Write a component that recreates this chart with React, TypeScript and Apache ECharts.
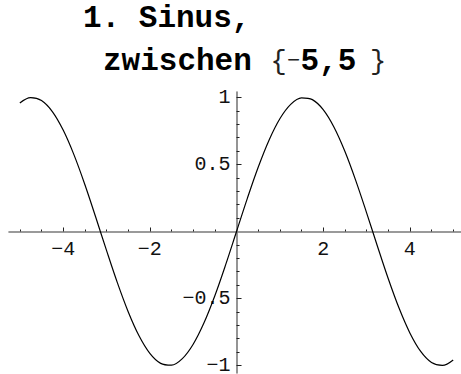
import React, { useEffect, useRef } from "react";
import * as echarts from "echarts";

// Sampled points of the sine curve on [-5, 5]
const xValues = [
  -5, -4.75, -4.5, -4.25, -4, -3.75, -3.5, -3.25, -3, -2.75, -2.5, -2.25, -2, -1.75, -1.5, -1.25, -1, -0.75, -0.5, -0.25,
  0, 0.25, 0.5, 0.75, 1, 1.25, 1.5, 1.75, 2, 2.25, 2.5, 2.75, 3, 3.25, 3.5, 3.75, 4, 4.25, 4.5, 4.75, 5,
];
const yValues = [
  0.9589, 0.9993, 0.9775, 0.895, 0.7568, 0.5716, 0.3508, 0.1082, -0.1411, -0.3817, -0.5985, -0.7781, -0.9093, -0.984,
  -0.9975, -0.949, -0.8415, -0.6816, -0.4794, -0.2474, 0, 0.2474, 0.4794, 0.6816, 0.8415, 0.949, 0.9975, 0.984, 0.9093,
  0.7781, 0.5985, 0.3817, 0.1411, -0.1082, -0.3508, -0.5716, -0.7568, -0.895, -0.9775, -0.9993, -0.9589,
];

// Tick positions and labels
const xMajorTicks = [-4, -2, 2, 4];
const xMinorTicks = [-5, -4.5, -3.5, -3, -2.5, -1.5, -1, -0.5, 0.5, 1, 1.5, 2.5, 3, 3.5, 4.5, 5];
const yMajorTicks = [-1, -0.5, 0.5, 1];
const yMinorTicks = [
  -0.9, -0.8, -0.7, -0.6, -0.4, -0.3, -0.2, -0.1, 0.1, 0.2, 0.3, 0.4, 0.6, 0.7, 0.8, 0.9,
];

const titleLine1 = "1. Sinus,";
const titleWord = "zwischen ";
const titleRange = "5,5";

// Plot range shown by the axes
const X_MIN = -5.25;
const X_MAX = 5.18;
const Y_MIN = -1.056;
const Y_MAX = 1.041;

const W = 461;
const H = 374;
const GRID = { left: 9, right: 0, top: 92, bottom: 1 };

const MONO = "'Liberation Mono', 'Courier New', monospace";
const fmt = (v: number) => (v < 0 ? "\u2212" : "") + String(Math.abs(v));

export default function App() {
  const ref = useRef<HTMLDivElement>(null);

  useEffect(() => {
    if (!ref.current) return;
    const chart = echarts.init(ref.current, null, { renderer: "svg" });

    // Axes cross at the origin: shift each axis from the grid edge to the zero of the other axis
    const gridW = W - GRID.left - GRID.right;
    const gridH = H - GRID.top - GRID.bottom;
    const xAxisOffset = -gridH * (0 - Y_MIN) / (Y_MAX - Y_MIN);
    const yAxisOffset = -gridW * (0 - X_MIN) / (X_MAX - X_MIN);

    const axisLine = { onZero: false, lineStyle: { color: "#7a7a7a", width: 1.6 } };
    const hiddenLine = { onZero: false, lineStyle: { color: "rgba(0,0,0,0)", width: 0 } };
    const label = { color: "#111", fontFamily: MONO, fontSize: 20, formatter: fmt };
    const tickLine = { color: "#222", width: 1 };

    chart.setOption({
      animation: false,
      backgroundColor: "#fff",
      grid: { ...GRID, containLabel: false, outerBoundsMode: "none" },
      xAxis: [
        {
          type: "value",
          position: "bottom",
          offset: xAxisOffset,
          min: X_MIN,
          max: X_MAX,
          axisLine,
          axisTick: { inside: true, length: 4, customValues: xMajorTicks, lineStyle: tickLine },
          axisLabel: { ...label, margin: 8, customValues: xMajorTicks },
          splitLine: { show: false },
        },
        {
          type: "value",
          position: "bottom",
          offset: xAxisOffset,
          min: X_MIN,
          max: X_MAX,
          axisLine: hiddenLine,
          axisTick: { inside: true, length: 2, customValues: xMinorTicks, lineStyle: tickLine },
          axisLabel: { show: false },
          splitLine: { show: false },
        },
      ],
      yAxis: [
        {
          type: "value",
          position: "left",
          offset: yAxisOffset,
          min: Y_MIN,
          max: Y_MAX,
          axisLine,
          axisTick: { inside: true, length: 5, customValues: yMajorTicks, lineStyle: tickLine },
          axisLabel: { ...label, lineHeight: 14, margin: 6, customValues: yMajorTicks },
          splitLine: { show: false },
        },
        {
          type: "value",
          position: "left",
          offset: yAxisOffset,
          min: Y_MIN,
          max: Y_MAX,
          axisLine: hiddenLine,
          axisTick: { inside: true, length: 3, customValues: yMinorTicks, lineStyle: tickLine },
          axisLabel: { show: false },
          splitLine: { show: false },
        },
      ],
      series: [
        {
          type: "line",
          xAxisIndex: 0,
          yAxisIndex: 0,
          data: xValues.map((x, i) => [x, yValues[i]]),
          smooth: 0.35,
          showSymbol: false,
          lineStyle: { color: "#000", width: 1.2 },
          z: 5,
        },
      ],
      graphic: [
        {
          type: "text",
          left: 83,
          top: 3,
          style: {
            text: titleLine1,
            font: `bold 31px ${MONO}`,
            fill: "#000",
          },
        },
        {
          type: "text",
          left: 103,
          top: 46,
          style: {
            text: `{b|${titleWord}}{p|{}{m|\u2212}{b|${titleRange}}`,
            rich: {
              b: { font: `bold 31px ${MONO}`, fill: "#000" },
              p: { font: `27px ${MONO}`, fill: "#222", width: 16.5, align: "center" },
              m: { font: `22px ${MONO}`, fill: "#222", width: 13.5, align: "center" },
            },
          },
        },
        {
          type: "text",
          left: 370,
          top: 48,
          style: {
            text: "}",
            font: `27px ${MONO}`,
            fill: "#222",
          },
        },
      ],
    });

    return () => chart.dispose();
  }, []);

  return (
    <div
      ref={ref}
      style={{ position: "absolute", left: 0, top: 0, width: W, height: H, background: "#fff" }}
    />
  );
}
